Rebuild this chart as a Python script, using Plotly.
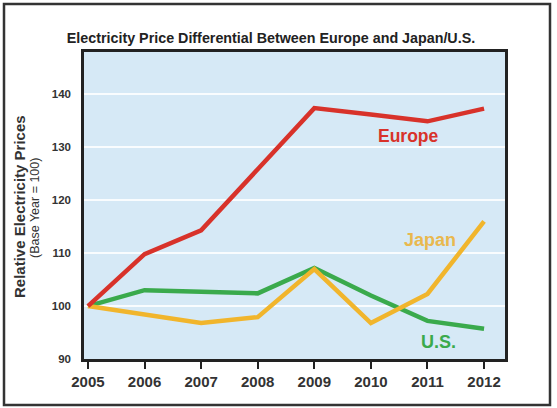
import plotly.graph_objects as go

years = [2005, 2006, 2007, 2008, 2009, 2010, 2011, 2012]
europe = [100, 109.8, 114.3, 126, 137.4, 136.2, 134.9, 137.3]
japan = [100, 98.3, 96.8, 97.9, 107.0, 96.8, 102.3, 116]
us = [100, 103.0, 102.7, 102.4, 107.2, 102.0, 97.2, 95.7]
y_ticks = [90, 100, 110, 120, 130, 140]

FONT = "Liberation Sans, Arial, sans-serif"
RED = "#d8322a"
GREEN = "#3aaa4c"
YELLOW = "#f1b52c"

fig = go.Figure()
fig.add_trace(go.Scatter(x=years, y=us, mode="lines", line=dict(color=GREEN, width=4.5), name="U.S."))
fig.add_trace(go.Scatter(x=years, y=japan, mode="lines", line=dict(color=YELLOW, width=4.5), name="Japan"))
fig.add_trace(go.Scatter(x=years, y=europe, mode="lines", line=dict(color=RED, width=4.5), name="Europe"))

fig.add_annotation(x=2010.66, y=132.1, text="<b>Europe</b>", showarrow=False,
                   font=dict(family=FONT, size=17.5, color=RED))
fig.add_annotation(x=2011.05, y=112.4, text="<b>Japan</b>", showarrow=False,
                   font=dict(family=FONT, size=18, color="#e9b84e"))
fig.add_annotation(x=2011.2, y=93.2, text="<b>U.S.</b>", showarrow=False,
                   font=dict(family=FONT, size=18, color=GREEN))

# axis titles
pw = 557 - 84 - 52
ph = 408 - 52 - 49
def px(xp):
    return (xp - 84) / pw
def py(yp):
    return (408 - 49 - yp) / ph

fig.add_annotation(xref="paper", yref="paper", x=px(19), y=py(207), textangle=-90,
                   xanchor="center", yanchor="middle",
                   text="<b>Relative Electricity Prices</b>", showarrow=False,
                   font=dict(family=FONT, size=15, color="#333333"))
fig.add_annotation(xref="paper", yref="paper", x=px(35), y=py(208), textangle=-90,
                   xanchor="center", yanchor="middle",
                   text="(Base Year = 100)", showarrow=False,
                   font=dict(family=FONT, size=12.5, color="#333333"))

fig.update_layout(
    width=557, height=408,
    margin=dict(l=84, r=52, t=52, b=49),
    paper_bgcolor="white",
    plot_bgcolor="#d6e9f6",
    showlegend=False,
    title=dict(text="<b>Electricity Price Differential Between Europe and Japan/U.S.</b>",
               x=(271) / 557, xanchor="center", y=1 - 38 / 408, yanchor="middle",
               font=dict(family=FONT, size=14.3, color="#222222")),
    xaxis=dict(range=[2004.93, 2012.37], tickvals=years,
               ticktext=["<b>%d</b>" % y for y in years],
               showgrid=False, zeroline=False,
               showline=True, linecolor="#222222", linewidth=2.5, mirror=True,
               ticks="outside", ticklen=7, tickwidth=2, tickcolor="#222222",
               tickfont=dict(family=FONT, size=15, color="#333333")),
    yaxis=dict(range=[90, 148], tickvals=y_ticks,
               ticktext=["<b>%d</b>" % v for v in y_ticks],
               showgrid=True, gridcolor="rgba(255,255,255,0.85)", gridwidth=1.5,
               zeroline=False,
               showline=True, linecolor="#222222", linewidth=2.5, mirror=True,
               ticks="", ticklabelstandoff=8,
               tickfont=dict(family=FONT, size=11.5, color="#333333")),
)

# outer frame around whole image
fig.add_shape(type="rect", xref="paper", yref="paper",
              x0=px(4), x1=px(550), y0=py(405), y1=py(4),
              line=dict(color="#333333", width=2.5), fillcolor="rgba(0,0,0,0)", layer="below")

fig.write_html("out.html", config={"displayModeBar": False},
               post_script="document.body.style.margin='0';")
